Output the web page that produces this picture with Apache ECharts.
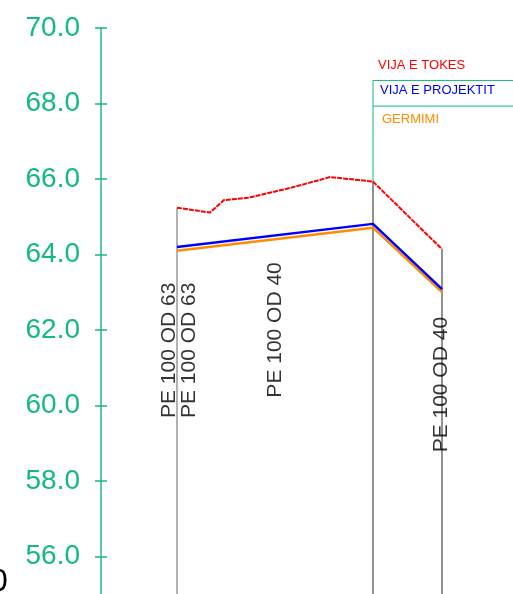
<!DOCTYPE html>
<html>
<head>
<meta charset="utf-8">
<script src="https://cdn.jsdelivr.net/npm/echarts@6/dist/echarts.min.js"></script>
<style>html,body{margin:0;padding:0;background:#fff;}#c{width:513px;height:594px;}</style>
</head>
<body>
<div id="c"></div>
<script>
// chainage positions (horizontal units) and elevations
var tokesX = [76, 109, 123, 147, 189, 229, 272, 341];
var tokesY = [65.24, 65.11, 65.44, 65.50, 65.76, 66.05, 65.93, 64.14];
var projX = [76, 272, 341];
var projY = [64.20, 64.81, 63.08];
var germX = [76, 272, 341];
var germY = [64.10, 64.71, 63.00];
var stationX = [76, 272, 341];
var stationTop = [65.24, 65.93, 64.14];
var pipeLabels = ['PE 100 OD 63', 'PE 100 OD 63', 'PE 100 OD 40', 'PE 100 OD 40'];
var pipeLabelX = [68, 88, 174.5, 340.7];
var pipeLabelY = [61.46, 61.46, 62.0, 60.55];
var legendNames = ['VIJA E TOKES', 'VIJA E PROJEKTIT', 'GERMIMI'];
var legendBoxTop = 68.61, legendBoxMid = 67.93;
var yMin = 54, yMax = 70, yStep = 2;

var GREEN = '#13b887';
var FONT = "'Liberation Sans', Arial, sans-serif";
function zip(xs, ys){ return xs.map(function(x,i){ return [x, ys[i]]; }); }

var series = [];
// vertical station lines
var stColors = ['#666', '#222', '#222'];
stationX.forEach(function(x, i){
  series.push({type:'line', data:[[x, stationTop[i]],[x, yMin]], symbol:'none', silent:true,
    lineStyle:{color:stColors[i], width:1}, z:1});
});
// legend box lines
series.push({type:'line', data:[[stationX[1], legendBoxTop],[stationX[1], stationTop[1]]], symbol:'none', lineStyle:{color:GREEN, width:1}, z:2});
series.push({type:'line', data:[[stationX[1], legendBoxTop],[420, legendBoxTop]], symbol:'none', lineStyle:{color:GREEN, width:1}, z:2});
series.push({type:'line', data:[[stationX[1], legendBoxMid],[420, legendBoxMid]], symbol:'none', lineStyle:{color:GREEN, width:1}, z:2});
// profile lines
series.push({name:legendNames[0], type:'line', data:zip(tokesX, tokesY), symbol:'none', lineStyle:{color:'#ff0000', width:2, type:[5,1]}, z:5});
series.push({name:legendNames[1], type:'line', data:zip(projX, projY), symbol:'none', lineStyle:{color:'#0000ff', width:2.5}, z:6});
series.push({name:legendNames[2], type:'line', data:zip(germX, germY), symbol:'none', lineStyle:{color:'#ff8c00', width:2.5}, z:5});
// pipe labels (drawn on the twin grid)
series.push({type:'scatter', symbolSize:0, z:10, xAxisIndex:1, yAxisIndex:1,
  data: pipeLabels.map(function(t,i){ return {value:[pipeLabelX[i], pipeLabelY[i]], name:t}; }),
  label:{show:true, position:'inside', rotate:90, formatter:function(p){return p.name;}, color:'#000', fontSize:21, fontFamily:FONT}
});

var gridBox = {left:101, top:28, width:412, height:(yMax-yMin)*37.74, outerBoundsMode:'none', containLabel:false};
var chart = echarts.init(document.getElementById('c'), null, {renderer:'canvas'});
chart.setOption({
  animation:false,
  backgroundColor:'#fff',
  grid:[gridBox, Object.assign({}, gridBox)],
  xAxis:[
    {gridIndex:0, type:'value', min:0, max:412, show:false},
    {gridIndex:1, type:'value', min:0, max:412, show:false}
  ],
  yAxis:[
    {gridIndex:0, type:'value', min:yMin, max:yMax, interval:yStep, position:'left',
     axisLine:{show:true, onZero:false, lineStyle:{color:'#4cc9a0', width:1.5}},
     axisTick:{show:true, length:6, lineStyle:{color:GREEN, width:1.5}},
     splitLine:{show:false},
     axisLabel:{margin:21, color:GREEN, fontSize:28, fontFamily:FONT, formatter:function(v){return v.toFixed(1);}}},
    {gridIndex:1, type:'value', min:yMin, max:yMax, interval:yStep, position:'left',
     axisLine:{show:true, onZero:false, lineStyle:{color:'#4cc9a0', width:1.5}},
     axisTick:{show:true, inside:true, length:6, lineStyle:{color:GREEN, width:1.5}},
     splitLine:{show:false}, axisLabel:{show:false}}
  ],
  graphic:[
    {type:'text', left:378, top:59, style:{text:legendNames[0], fill:'#ff0000', font:'13px '+FONT}},
    {type:'text', left:380, top:84, style:{text:legendNames[1], fill:'#0000ff', font:'13px '+FONT}},
    {type:'text', left:382, top:113, style:{text:legendNames[2], fill:'#ff8c00', font:'13px '+FONT}},
    {type:'text', left:-10, top:566, style:{text:'0', fill:'#000', font:'32px '+FONT}}
  ],
  series:series
});
</script>
</body>
</html>
